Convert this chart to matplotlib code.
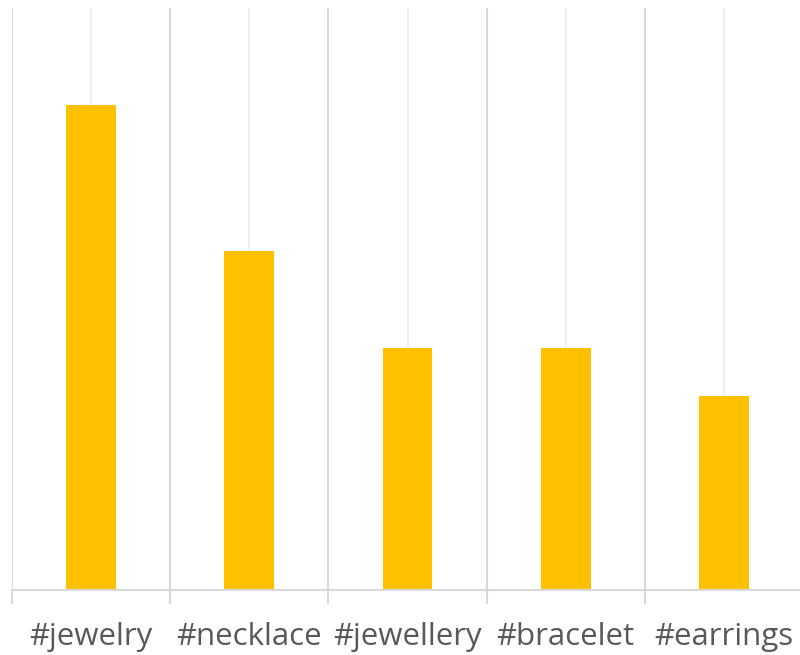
import matplotlib
matplotlib.use("Agg")
import matplotlib.pyplot as plt
import numpy as np

categories = ["#jewelry", "#necklace", "#jewellery", "#bracelet", "#earrings"]
values = [10, 7, 5, 5, 4]

fig = plt.figure(figsize=(8, 6.55), dpi=100)
ax = fig.add_axes([12/800, 1 - 590/655, 791/800, 582/655])
x = np.arange(len(categories))
ax.bar(x, values, width=0.316, color="#FFC000", zorder=3)
ax.set_xlim(-0.5, len(categories) - 0.5)
ax.set_ylim(0, 12)

# gridlines at boundaries (major) and centers (minor)
for b in np.arange(-0.5, len(categories) + 0.5, 1):
    ax.axvline(b, color="#d9d9d9", lw=1.5, zorder=1)
for c in x:
    ax.axvline(c, color="#f0f0f0", lw=1.5, zorder=1)

for s in ["top", "right", "left"]:
    ax.spines[s].set_visible(False)
ax.spines["bottom"].set_color("#d9d9d9")
ax.spines["bottom"].set_linewidth(1.5)
ax.spines["bottom"].set_zorder(4)
ax.set_yticks([])
ax.set_xticks(np.arange(-0.5, len(categories) + 0.5, 1))
ax.set_xticklabels([])
ax.tick_params(axis="x", length=10, width=1.5, color="#d9d9d9")
ax.set_xticks(x, minor=True)
ax.set_xticklabels(categories, minor=True, fontsize=22.5, color="#595959",
                   family=["Open Sans", "DejaVu Sans"])
ax.tick_params(axis="x", which="minor", length=0, pad=23)

fig.savefig("out.png", dpi=100)
